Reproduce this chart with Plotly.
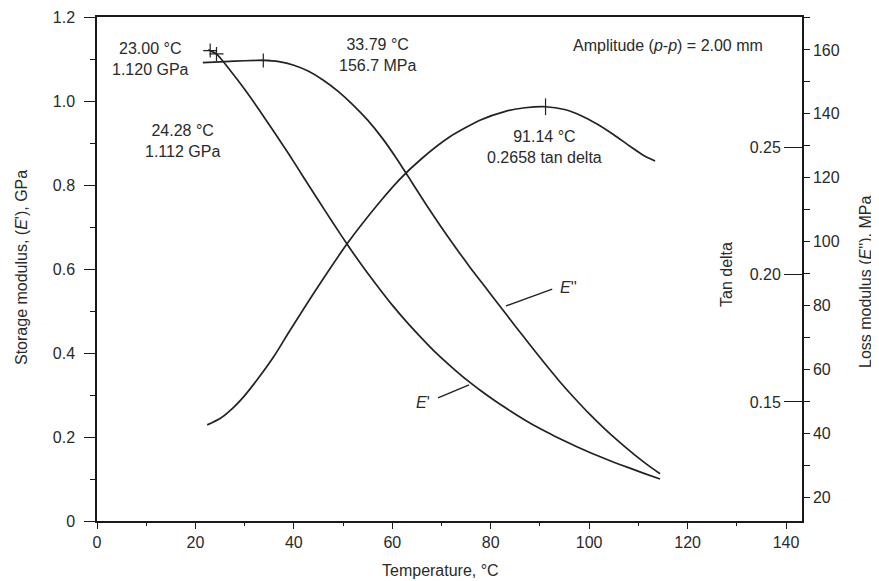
import plotly.graph_objects as go

# ---------------- data ----------------
temp_storage = [22.6, 23.0, 24.28, 27.0, 30.0, 33.0, 36.0, 39.0, 42.0, 45.0, 48.0, 51.0,
                54.0, 57.0, 60.0, 63.0, 66.0, 69.0, 72.0, 75.0, 78.0, 81.0, 84.0, 87.0,
                90.0, 93.0, 96.0, 99.0, 102.0, 105.0, 108.0, 111.0, 114.4]
storage_gpa = [1.122, 1.120, 1.112, 1.074, 1.028, 0.978, 0.926, 0.873, 0.818, 0.763,
               0.709, 0.656, 0.606, 0.559, 0.514, 0.473, 0.435, 0.399, 0.367, 0.337,
               0.310, 0.285, 0.262, 0.240, 0.220, 0.202, 0.185, 0.169, 0.154, 0.140,
               0.127, 0.114, 0.100]

temp_loss = [21.5, 26.0, 30.0, 33.79, 37.0, 40.0, 43.0, 46.0, 49.0, 52.0, 55.0, 58.0,
             61.0, 64.0, 67.0, 70.0, 73.0, 76.0, 79.0, 82.0, 85.0, 88.0, 91.0, 94.0,
             97.0, 100.0, 103.0, 106.0, 109.0, 112.0, 114.4]
loss_mpa = [156.0, 156.3, 156.6, 156.7, 156.3, 155.2, 153.3, 150.5, 147.0, 142.8, 138.0,
            132.3, 125.7, 118.5, 111.3, 104.4, 97.8, 91.5, 85.5, 79.5, 73.5, 67.6, 61.8,
            56.2, 51.0, 46.1, 41.6, 37.4, 33.5, 29.9, 27.3]

temp_tan = [22.4, 25.0, 27.6, 30.0, 32.5, 36.0, 39.2, 45.0, 51.0, 57.5, 61.6, 66.0,
            71.7, 77.8, 83.0, 87.0, 91.14, 95.0, 98.5, 101.6, 105.0, 108.3, 111.0, 113.4]
tan_delta = [0.141, 0.1435, 0.1476, 0.1525, 0.1586, 0.168, 0.178, 0.1955, 0.2125, 0.2285,
             0.2375, 0.2455, 0.2540, 0.2605, 0.2640, 0.2654, 0.2658, 0.2647, 0.2622,
             0.2590, 0.2548, 0.2503, 0.2468, 0.2445]

mark_storage_t = [23.00, 24.28]
mark_storage_v = [1.120, 1.112]
mark_loss_t = [33.79]
mark_loss_v = [156.7]
mark_tan_t = [91.14]
mark_tan_v = [0.2658]

storage_ticktext = ["0", "0.2", "0.4", "0.6", "0.8", "1.0", "1.2"]
tan_ticktext = ["0.15", "0.20", "0.25"]

# ---------------- styling ----------------
FONT = "Liberation Sans, Arial, sans-serif"
TXT = "#2a2a2a"
CURVE = "#222222"
AX = "#1a1a1a"
FS = 16

# The page body has an 8px default margin: the figure is sized/offset to
# compensate so that the plot area sits at x 97..802, y 17..521 of the window.
OFF = 8
W, H = 879 - OFF, 581 - OFF
PL, PR, PT, PB = 97, 802, 17, 521   # plot area in window pixels

fig = go.Figure()

line_style = dict(color=CURVE, width=1.7, shape="spline", smoothing=0.6)
fig.add_trace(go.Scatter(x=temp_storage, y=storage_gpa, mode="lines",
                         line=line_style, yaxis="y", hoverinfo="skip"))
fig.add_trace(go.Scatter(x=temp_loss, y=loss_mpa, mode="lines",
                         line=line_style, yaxis="y2", hoverinfo="skip"))
fig.add_trace(go.Scatter(x=temp_tan, y=tan_delta, mode="lines",
                         line=line_style, yaxis="y3", hoverinfo="skip"))

# point markers
fig.add_trace(go.Scatter(x=mark_storage_t, y=mark_storage_v, mode="markers",
                         marker=dict(symbol="cross-thin", size=10,
                                     line=dict(color=CURVE, width=1.2)),
                         yaxis="y", hoverinfo="skip"))
fig.add_trace(go.Scatter(x=mark_loss_t, y=mark_loss_v, mode="markers",
                         marker=dict(symbol="cross-thin", size=10,
                                     line=dict(color=CURVE, width=1.2)),
                         yaxis="y2", hoverinfo="skip"))
fig.add_trace(go.Scatter(x=mark_tan_t, y=mark_tan_v, mode="markers",
                         marker=dict(symbol="line-ns", size=12,
                                     line=dict(color=CURVE, width=1.2)),
                         yaxis="y3", hoverinfo="skip"))

tickfont = dict(family=FONT, size=FS, color=TXT)

fig.update_layout(
    width=W, height=H,
    margin=dict(l=PL - OFF, r=W - (PR - OFF), t=PT - OFF, b=H - (PB - OFF),
                autoexpand=False),
    paper_bgcolor="white", plot_bgcolor="white",
    showlegend=False,
    font=dict(family=FONT, size=FS, color=TXT),
    xaxis=dict(range=[0, 143.25], tickmode="linear", tick0=0, dtick=20,
               ticks="outside", ticklen=6, tickwidth=1.2, tickcolor=AX,
               minor=dict(dtick=10, tick0=0, ticks="outside", ticklen=3, tickcolor=AX),
               showline=True, linecolor=AX, linewidth=1.5, mirror=True,
               showgrid=False, zeroline=False, tickfont=tickfont, anchor="y",
               automargin=False),
    yaxis=dict(range=[0, 1.2], tickmode="array",
               tickvals=[0, 0.2, 0.4, 0.6, 0.8, 1.0, 1.2], ticktext=storage_ticktext,
               ticks="outside", ticklen=11, tickwidth=1.2, tickcolor=AX,
               ticklabelstandoff=6,
               minor=dict(dtick=0.1, tick0=0, ticks="outside", ticklen=5, tickcolor=AX),
               showline=True, linecolor=AX, linewidth=1.5, mirror=True,
               showgrid=False, zeroline=False, tickfont=tickfont, automargin=False),
    yaxis2=dict(range=[12.5, 170.3], tickmode="linear", tick0=0, dtick=20,
                overlaying="y", side="right",
                anchor="x", ticks="outside", ticklen=6, tickwidth=1.2, tickcolor=AX,
                minor=dict(dtick=10, tick0=0, ticks="outside", ticklen=6, tickcolor=AX),
                showline=True, linecolor=AX, linewidth=1.5,
                showgrid=False, zeroline=False, tickfont=tickfont, automargin=False),
    # tan delta scale shares the right-hand line; its labels sit inside the plot
    yaxis3=dict(range=[0.1033, 0.301], tickmode="array", tickvals=[0.15, 0.20, 0.25],
                ticktext=tan_ticktext,
                overlaying="y", side="left", anchor="free", position=1.0,
                ticks="outside", ticklen=18, tickwidth=1.2,
                tickcolor=AX, showline=False, showgrid=False, zeroline=False,
                tickfont=tickfont, automargin=False),
)

def ann(text, x, y, **kw):
    d = dict(text=text, x=x, y=y, xref="x", yref="y", showarrow=False,
             font=dict(family=FONT, size=FS, color=TXT), align="center")
    d.update(kw)
    fig.add_annotation(**d)

ann("23.00 °C<br>1.120 GPa", 10.8, 1.10)
ann("24.28 °C<br>1.112 GPa", 17.3, 0.905)
ann("33.79 °C<br>156.7 MPa", 57.0, 1.11)
ann("91.14 °C<br>0.2658 tan delta", 91.0, 0.89)
ann("Amplitude (<i>p</i>-<i>p</i>) = 2.00 mm", 116.0, 1.133)
ann("<i>E</i>''", 95.8, 0.555)
ann("<i>E</i>'", 66.3, 0.283)

# leader lines for curve labels
fig.add_shape(type="line", xref="x", yref="y", x0=83.1, y0=0.512, x1=92.5, y1=0.552,
              line=dict(color=CURVE, width=1.4))
fig.add_shape(type="line", xref="x", yref="y", x0=69.3, y0=0.293, x1=75.6, y1=0.324,
              line=dict(color=CURVE, width=1.4))

# axis titles, placed by window pixel position
def px_to_paper(px, py):
    return (px - PL) / float(PR - PL), (PB - py) / float(PB - PT)

for text, px, py, ang in [
    ("Storage modulus, (<i>E</i>'), GPa", 21, 268, -90),
    ("Loss modulus (<i>E</i>''), MPa", 865, 282, -90),
    ("Tan delta", 726, 275, -90),
    ("Temperature, °C", 440, 570, 0),
]:
    xp, yp = px_to_paper(px, py)
    fig.add_annotation(text=text, x=xp, y=yp, xref="paper", yref="paper",
                       showarrow=False, textangle=ang,
                       font=dict(family=FONT, size=FS, color=TXT),
                       xanchor="center", yanchor="middle")

fig.write_html("out.html")
